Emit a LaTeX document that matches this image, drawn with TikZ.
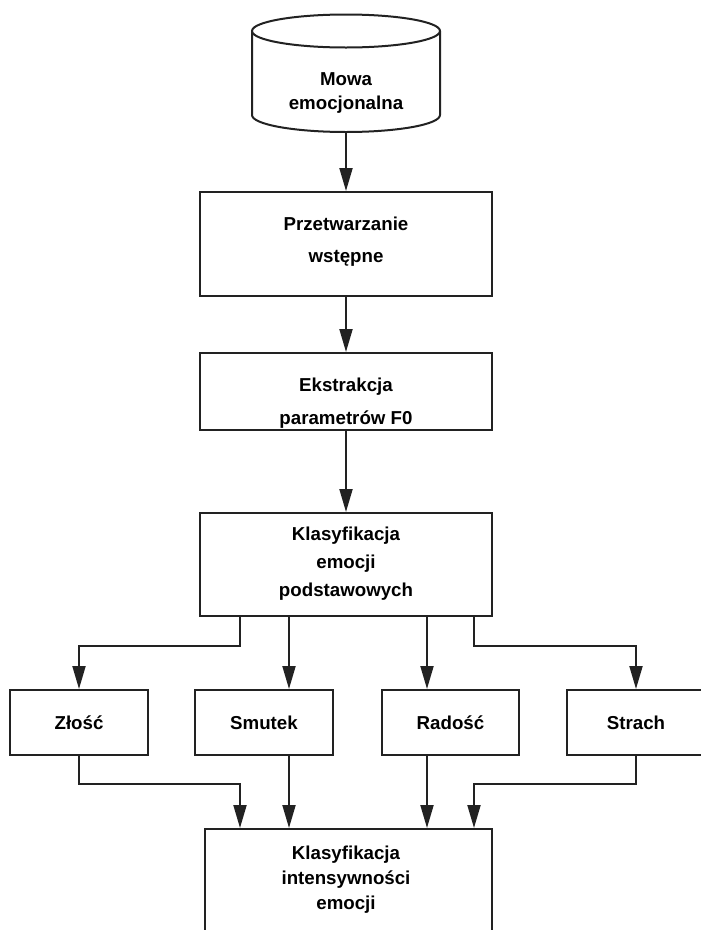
\documentclass[tikz,border=0pt]{standalone}
\usepackage{fontspec}
\setmainfont{Liberation Sans}
\usetikzlibrary{arrows.meta}
\definecolor{ink}{RGB}{34,34,34}
\begin{document}
\begin{tikzpicture}[x=1pt,y=-1pt,
  stage/.style={draw=ink, line width=2pt, rectangle, inner sep=0pt,
    font={\bfseries\fontsize{18.7}{22}\selectfont}},
  lbl/.style={align=center, inner sep=0pt,
    font={\bfseries\fontsize{18.7}{#1}\selectfont}},
  arr/.style={draw=ink, line width=2pt, -{Triangle[length=23pt,width=13pt]}},
  edge/.style={draw=ink, line width=2pt}]
\useasboundingbox (0,0) rectangle (701,930);

% source database (cylinder)
\draw[edge] (252,31) -- (252,115)
  arc[start angle=180, end angle=360, x radius=94pt, y radius=17pt]
  -- (440,31);
\draw[edge, fill=white] (346,31) ellipse [x radius=94pt, y radius=16.5pt];
\node[lbl=24] (src) at (346,93.3) {Mowa\\emocjonalna};
\coordinate (srcb) at (346,132);

% processing chain
\node[stage, minimum width=292pt, minimum height=104pt] (b1) at (346,244) {};
\node[lbl=32] (t1) at (346,241.3) {Przetwarzanie\\wstępne};
\node[stage, minimum width=292pt, minimum height=77pt] (b2) at (346,391.5) {};
\node[lbl=33] (t2) at (346,403.6) {Ekstrakcja\\parametrów F0};
\node[stage, minimum width=292pt, minimum height=103pt] (b3) at (346,564.5) {};
\node[lbl=28] (t3) at (346,564) {Klasyfikacja\\emocji\\podstawowych};

% basic emotions
\node[stage, minimum width=138pt, minimum height=65pt] (e1) at (79,722.5) {Złość};
\node[stage, minimum width=138pt, minimum height=65pt] (e2) at (264,722.5) {Smutek};
\node[stage, minimum width=137pt, minimum height=65pt] (e3) at (450.5,722.5) {Radość};
\node[stage, minimum width=138pt, minimum height=65pt] (e4) at (636,722.5) {Strach};

% intensity stage
\node[stage, minimum width=287pt, minimum height=120pt] (bot) at (348.5,889) {};
\node[lbl=25] (t4) at (346,880) {Klasyfikacja\\intensywności\\emocji};

% connectors
\draw[arr] (srcb) -- (b1.north);
\draw[arr] (b1.south) -- (b2.north);
\draw[arr] (b2.south) -- (b3.north);

\draw[arr] ([xshift=-106pt]b3.south) -- ++(0,29) -| (e1.north);
\draw[arr] ([xshift=-57pt]b3.south) -- ([xshift=-57pt]b3.south |- e2.north);
\draw[arr] ([xshift=81pt]b3.south) -- ([xshift=81pt]b3.south |- e3.north);
\draw[arr] ([xshift=128pt]b3.south) -- ++(0,29) -| (e4.north);

\draw[arr] (e1.south) -- ++(0,28) -| ([xshift=-106pt]b3.south |- bot.north);
\draw[arr] ([xshift=-57pt]b3.south |- e2.south) -- ([xshift=-57pt]b3.south |- bot.north);
\draw[arr] ([xshift=81pt]b3.south |- e3.south) -- ([xshift=81pt]b3.south |- bot.north);
\draw[arr] (e4.south) -- ++(0,28) -| ([xshift=128pt]b3.south |- bot.north);
\end{tikzpicture}
\end{document}
